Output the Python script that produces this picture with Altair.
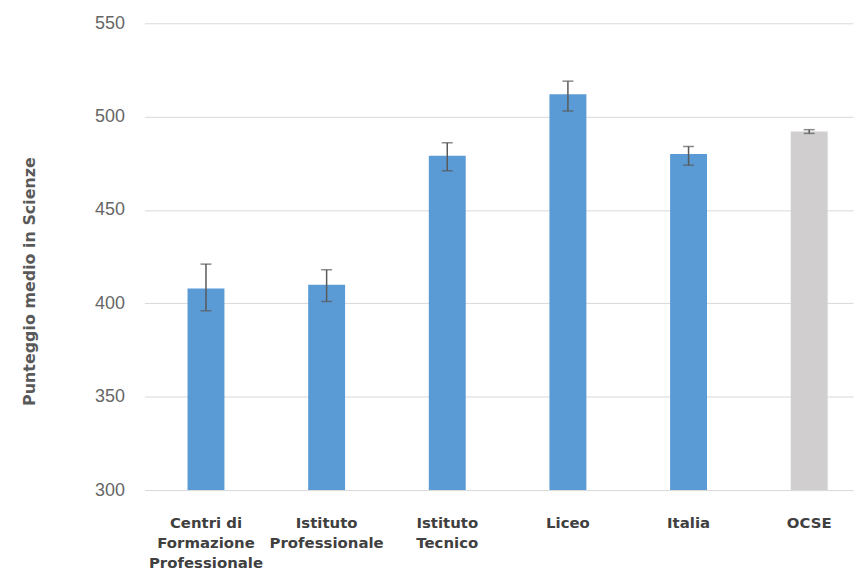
import altair as alt
import pandas as pd

categories = ["Centri di|Formazione|Professionale", "Istituto|Professionale",
              "Istituto|Tecnico", "Liceo", "Italia", "OCSE"]
values = [408, 410, 479, 512, 480, 492]
err_low = [396, 401, 471, 503, 474, 491]
err_high = [421, 418, 486, 519, 484, 493]
groups = ["it", "it", "it", "it", "it", "ocse"]
y_ticks = [300, 350, 400, 450, 500, 550]

df = pd.DataFrame({"cat": categories, "val": values, "lo": err_low,
                   "hi": err_high, "grp": groups})

xscale = alt.Scale(paddingInner=0.694, paddingOuter=0.284, align=0.63)
x = alt.X("cat:N", sort=categories, title=None, scale=xscale,
          axis=alt.Axis(labelExpr="split(datum.label, '|')", labelAngle=0,
                        labelFont="DejaVu Sans", labelFontWeight="bold",
                        labelFontSize=15, labelColor="#404040",
                        labelLineHeight=20, labelPadding=26, labelBaseline="top",
                        ticks=False, domain=False, grid=False))
y = alt.Y("val:Q", title="Punteggio medio in Scienze",
          scale=alt.Scale(domain=[300, 550], zero=False, nice=False),
          axis=alt.Axis(values=y_ticks, grid=True, gridColor="#d9d9d9",
                        gridWidth=1, ticks=False, domain=False,
                        labelFont="Liberation Sans", labelFontSize=18,
                        labelColor="#666666", labelPadding=20,
                        titleFont="DejaVu Sans", titleFontSize=16,
                        titleFontWeight="bold", titleColor="#595959",
                        titleX=-107, titleY=259))

base = alt.Chart(df)
bars = base.mark_bar().encode(
    x=x, y=y, y2=alt.Y2Datum(300),
    color=alt.Color("grp:N", legend=None,
                    scale=alt.Scale(domain=["it", "ocse"], range=["#5b9bd5", "#d0cece"])))
rules = base.mark_rule(color="#595959", strokeWidth=1.5).encode(
    x=alt.X("cat:N", sort=categories), y="lo:Q", y2="hi:Q")
cap_lo = base.mark_tick(color="#595959", thickness=1.5, size=11, orient="horizontal").encode(
    x=alt.X("cat:N", sort=categories), y="lo:Q")
cap_hi = base.mark_tick(color="#595959", thickness=1.5, size=11, orient="horizontal").encode(
    x=alt.X("cat:N", sort=categories), y="hi:Q")

chart = alt.layer(bars, rules, cap_lo, cap_hi).properties(
    width=712, height=469,
    autosize=alt.AutoSizeParams(type="none"),
    padding={"left": 137, "top": 14, "right": 2, "bottom": 80},
    background="white",
).configure_view(stroke=None)

chart.save("out.html", embed_options={"renderer": "svg", "actions": False})
